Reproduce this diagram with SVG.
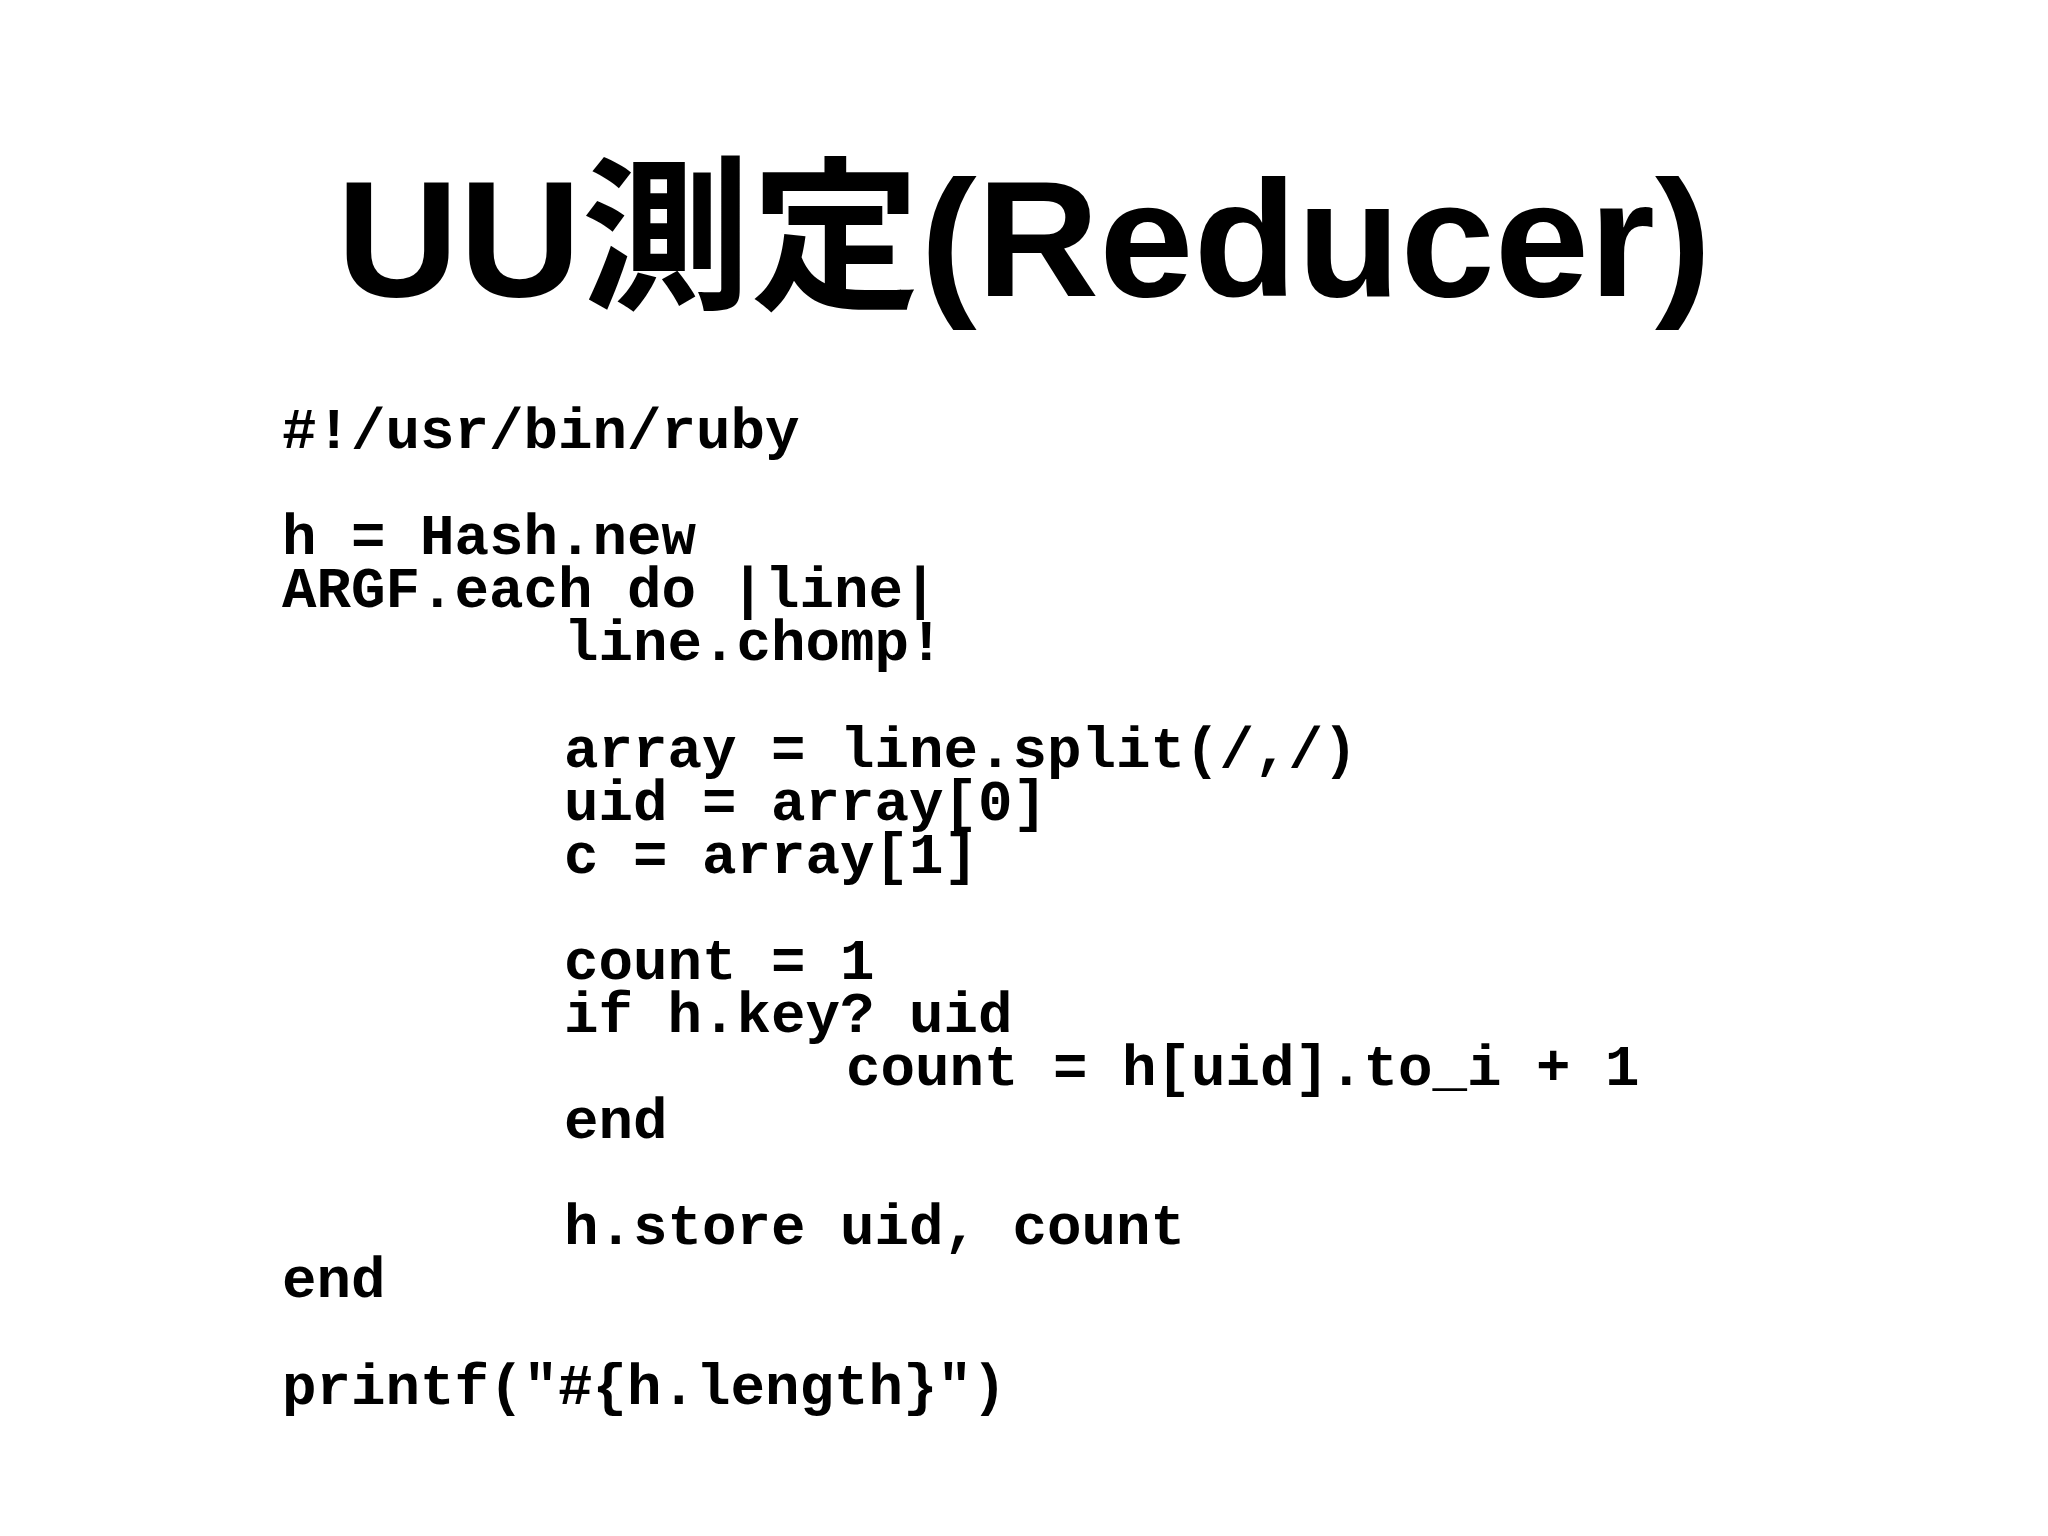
<svg xmlns="http://www.w3.org/2000/svg" width="2048" height="1536" viewBox="0 0 2048 1536">
<style>
.t{font-family:"Liberation Sans","Noto Sans CJK JP",sans-serif;font-weight:bold;font-size:165px;fill:#000}
.c{font-family:"Liberation Mono","Courier New",monospace;font-weight:bold;font-size:57.5px;fill:#000}
</style>
<rect width="2048" height="1536" fill="#fff"/>
<text class="t" x="1024" y="296" text-anchor="middle" textLength="1375" lengthAdjust="spacingAndGlyphs">UU測定(Reducer)</text>
<g id="code" class="c">
<text class="c" x="282" y="448">#!/usr/bin/ruby</text>
<text class="c" x="282" y="554">h = Hash.new</text>
<text class="c" x="282" y="607">ARGF.each do |line|</text>
<text class="c" x="564" y="660">line.chomp!</text>
<text class="c" x="564" y="767">array = line.split(/,/)</text>
<text class="c" x="564" y="820">uid = array[0]</text>
<text class="c" x="564" y="873">c = array[1]</text>
<text class="c" x="564" y="979">count = 1</text>
<text class="c" x="564" y="1032">if h.key? uid</text>
<text class="c" x="846" y="1085">count = h[uid].to_i + 1</text>
<text class="c" x="564" y="1138">end</text>
<text class="c" x="564" y="1244">h.store uid, count</text>
<text class="c" x="282" y="1297">end</text>
<text class="c" x="282" y="1404">printf("#{h.length}")</text>
</g>
</svg>
